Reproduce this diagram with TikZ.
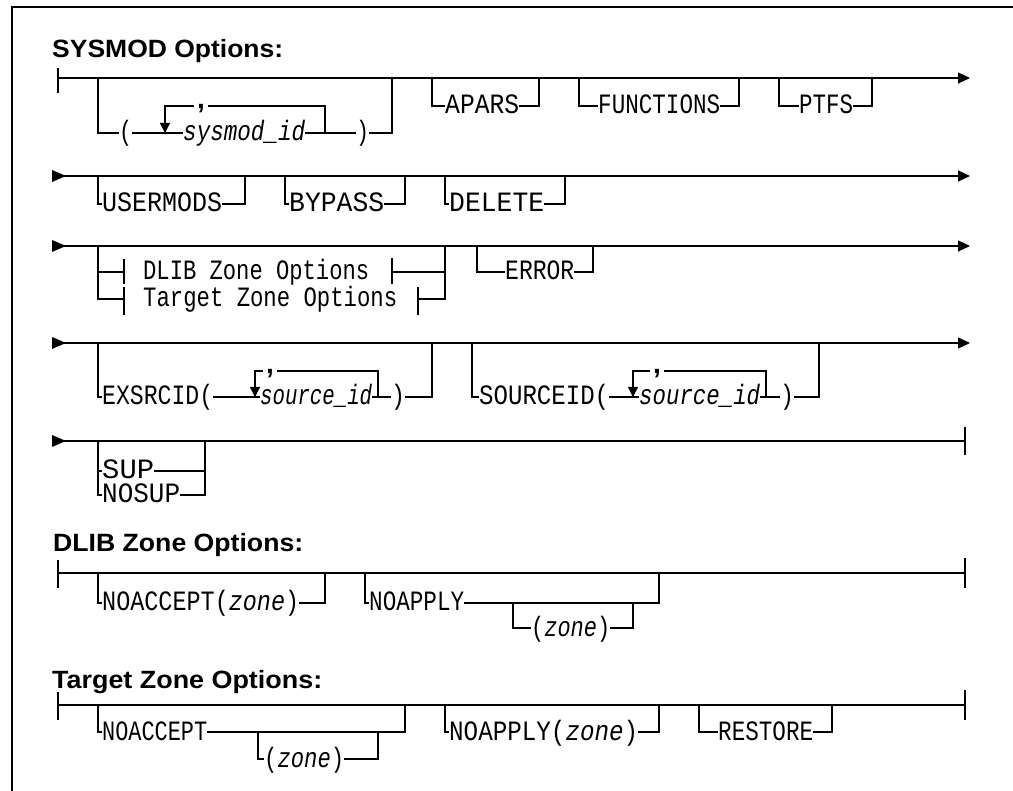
\documentclass[tikz,border=0pt]{standalone}
\usepackage{fontspec}
\usepackage{graphicx}
\usetikzlibrary{arrows.meta}
\setmainfont{Liberation Sans}
\newfontfamily\monof{Liberation Mono}
\newcommand\lblf{\monof\fontsize{28}{28}\selectfont}
\newcommand\ttlf{\fontsize{25}{28}\selectfont\bfseries}
\newcommand\cmf{\fontsize{28}{28}\selectfont\bfseries}
\newcommand\fitw[2]{\resizebox{#1pt}{\height}{#2}}
\tikzset{
  rr/.style={line width=1.2pt},
  lb/.style={inner sep=0pt, anchor=west, text height=16pt, text depth=0pt, font=\lblf},
  ttl/.style={inner sep=0pt, anchor=base west, font=\ttlf},
  commanode/.style={inner sep=0pt, text height=0pt, text depth=0pt, font=\cmf},
  tip/.style={-{Triangle[length=12pt,width=11pt]}},
  dtip/.style={-{Triangle[length=10pt,width=10pt]}},
}
\begin{document}
\begin{tikzpicture}[x=1pt,y=-1pt]
\useasboundingbox (0,0) rectangle (1013,791);
% frame
\draw[line width=1.6pt] (12,791) -- (12,7) -- (1013,7);

% ---------------- SYSMOD Options ----------------
\node[ttl] (t1) at (52,58) {\fitw{231}{SYSMOD Options:}};
% row 1
\coordinate (r1s) at (58,78);
\coordinate (r1e) at (970,78);
\draw[rr] (58,68) -- (58,93);
\draw[rr,tip] (r1s) -- (r1e);
\node[lb] (lp) at (119,133) {\fitw{13}{(}};
\node[lb] (sid) at (183,133) {\fitw{122}{\itshape sysmod\_id}};
\node[lb] (rp) at (356,133) {\fitw{13}{)}};
\node[commanode] (c1) at (201,109) {,};
\draw[rr] (98,78) |- (lp.west);
\draw[rr] (lp.east) -- (sid.west);
\draw[rr] (sid.east) -- (rp.west);
\draw[rr] (rp.east) -| (392,78);
\draw[rr] (325,133) |- ([xshift=3pt]c1.east |- 0,106);
\draw[rr,dtip] ([xshift=-3pt]c1.west |- 0,106) -| (165,133);
\node[lb] (ap) at (445,106) {\fitw{74}{APARS}};
\draw[rr] (432,78) |- (ap.west);
\draw[rr] (ap.east) -| (539,78);
\node[lb] (fn) at (598,106) {\fitw{122}{FUNCTIONS}};
\draw[rr] (579,78) |- (fn.west);
\draw[rr] (fn.east) -| (739,78);
\node[lb] (pt) at (799,106) {\fitw{54}{PTFS}};
\draw[rr] (779,78) |- (pt.west);
\draw[rr] (pt.east) -| (872,78);

% row 2
\fill (52,170) -- (66,176) -- (52,182) -- cycle;
\coordinate (r2s) at (52,176);
\coordinate (r2e) at (970,176);
\draw[rr,tip] (r2s) -- (r2e);
\node[lb] (um) at (102,204) {\fitw{120}{USERMODS}};
\draw[rr] (98,176) |- (um.west);
\draw[rr] (um.east) -| (245,176);
\node[lb] (bp) at (289,204) {\fitw{95}{BYPASS}};
\draw[rr] (285,176) |- (bp.west);
\draw[rr] (bp.east) -| (405,176);
\node[lb] (dl) at (449,204) {\fitw{95}{DELETE}};
\draw[rr] (445,176) |- (dl.west);
\draw[rr] (dl.east) -| (565,176);

% row 3
\fill (52,240) -- (66,246) -- (52,252) -- cycle;
\coordinate (r3s) at (52,246);
\coordinate (r3e) at (970,246);
\draw[rr,tip] (r3s) -- (r3e);
\node[lb] (dz) at (143,272) {\fitw{226}{DLIB Zone Options}};
\node[lb] (tz) at (143,299) {\fitw{254}{Target Zone Options}};
\draw[rr] (98,246) |- (124,299);
\draw[rr] (98,272) -- (124,272);
\draw[rr] (124,259) -- (124,284);
\draw[rr] (124,287) -- (124,315);
\draw[rr] (392,258) -- (392,284);
\draw[rr] (418,287) -- (418,315);
\draw[rr] (392,272) -- (445,272);
\draw[rr] (418,299) -| (445,246);
\node[lb] (er) at (505,272) {\fitw{69}{ERROR}};
\draw[rr] (477,246) |- (er.west);
\draw[rr] (er.east) -| (593,246);

% row 4
\fill (52,337) -- (66,343) -- (52,349) -- cycle;
\coordinate (r4s) at (52,343);
\coordinate (r4e) at (970,343);
\draw[rr,tip] (r4s) -- (r4e);
\node[lb] (ex) at (102,397) {\fitw{111}{EXSRCID(}};
\node[lb] (s1) at (260,397) {\fitw{112}{\itshape source\_id}};
\node[lb] (q1) at (391,397) {\fitw{14}{)}};
\node[commanode] (c2) at (270,374) {,};
\draw[rr] (98,343) |- (ex.west);
\draw[rr] (ex.east) -- (s1.west);
\draw[rr] (s1.east) -- (q1.west);
\draw[rr] (q1.east) -| (432,343);
\draw[rr] (378,397) |- ([xshift=3pt]c2.east |- 0,371);
\draw[rr,dtip] ([xshift=-3pt]c2.west |- 0,371) -| (255,397);
\node[lb] (so) at (479,397) {\fitw{130}{SOURCEID(}};
\node[lb] (s2) at (639,397) {\fitw{121}{\itshape source\_id}};
\node[lb] (q2) at (780,397) {\fitw{14}{)}};
\node[commanode] (c3) at (657,374) {,};
\draw[rr] (472,343) |- (so.west);
\draw[rr] (so.east) -- (s2.west);
\draw[rr] (s2.east) -- (q2.west);
\draw[rr] (q2.east) -| (819,343);
\draw[rr] (766,397) |- ([xshift=3pt]c3.east |- 0,371);
\draw[rr,dtip] ([xshift=-3pt]c3.west |- 0,371) -| (633,397);

% row 5
\fill (52,435) -- (66,441) -- (52,447) -- cycle;
\coordinate (r5s) at (52,441);
\coordinate (r5e) at (965,441);
\draw[rr] (r5s) -- (r5e);
\draw[rr] (965,427) -- (965,455);
\node[lb] (su) at (102,471) {\fitw{52}{SUP}};
\node[lb] (ns) at (102,495) {\fitw{78}{NOSUP}};
\draw[rr] (98,441) |- (ns.west);
\draw[rr] (98,471) -- (su.west);
\draw[rr] (su.east) -- (205,471);
\draw[rr] (ns.east) -| (205,441);

% ---------------- DLIB Zone Options ----------------
\node[ttl] (t2) at (53,552) {\fitw{250}{DLIB Zone Options:}};
\coordinate (d1s) at (58,573);
\coordinate (d1e) at (965,573);
\draw[rr] (58,560) -- (58,588);
\draw[rr] (d1s) -- (d1e);
\draw[rr] (965,558) -- (965,588);
\node[lb] (na1) at (102,603) {\fitw{197}{NOACCEPT(\textit{zone})}};
\draw[rr] (98,573) |- (na1.west);
\draw[rr] (na1.east) -| (325,573);
\node[lb] (nap) at (369,603) {\fitw{95}{NOAPPLY}};
\draw[rr] (365,573) |- (nap.west);
\draw[rr] (nap.east) -| (659,573);
\node[lb] (z1) at (531,628) {\fitw{79}{(\textit{zone})}};
\draw[rr] (513,603) |- (z1.west);
\draw[rr] (z1.east) -| (633,603);

% ---------------- Target Zone Options ----------------
\node[ttl] (t3) at (52,688) {\fitw{270}{Target Zone Options:}};
\coordinate (g1s) at (58,705);
\coordinate (g1e) at (965,705);
\draw[rr] (58,692) -- (58,720);
\draw[rr] (g1s) -- (g1e);
\draw[rr] (965,690) -- (965,720);
\node[lb] (nac) at (102,732) {\fitw{105}{NOACCEPT}};
\draw[rr] (98,705) |- (nac.west);
\draw[rr] (nac.east) -| (405,705);
\node[lb] (z2) at (264,759) {\fitw{80}{(\textit{zone})}};
\draw[rr] (258,732) |- (z2.west);
\draw[rr] (z2.east) -| (378,732);
\node[lb] (nz) at (449,732) {\fitw{189}{NOAPPLY(\textit{zone})}};
\draw[rr] (445,705) |- (nz.west);
\draw[rr] (nz.east) -| (659,705);
\node[lb] (rs) at (718,732) {\fitw{95}{RESTORE}};
\draw[rr] (699,705) |- (rs.west);
\draw[rr] (rs.east) -| (832,705);
\end{tikzpicture}
\end{document}
